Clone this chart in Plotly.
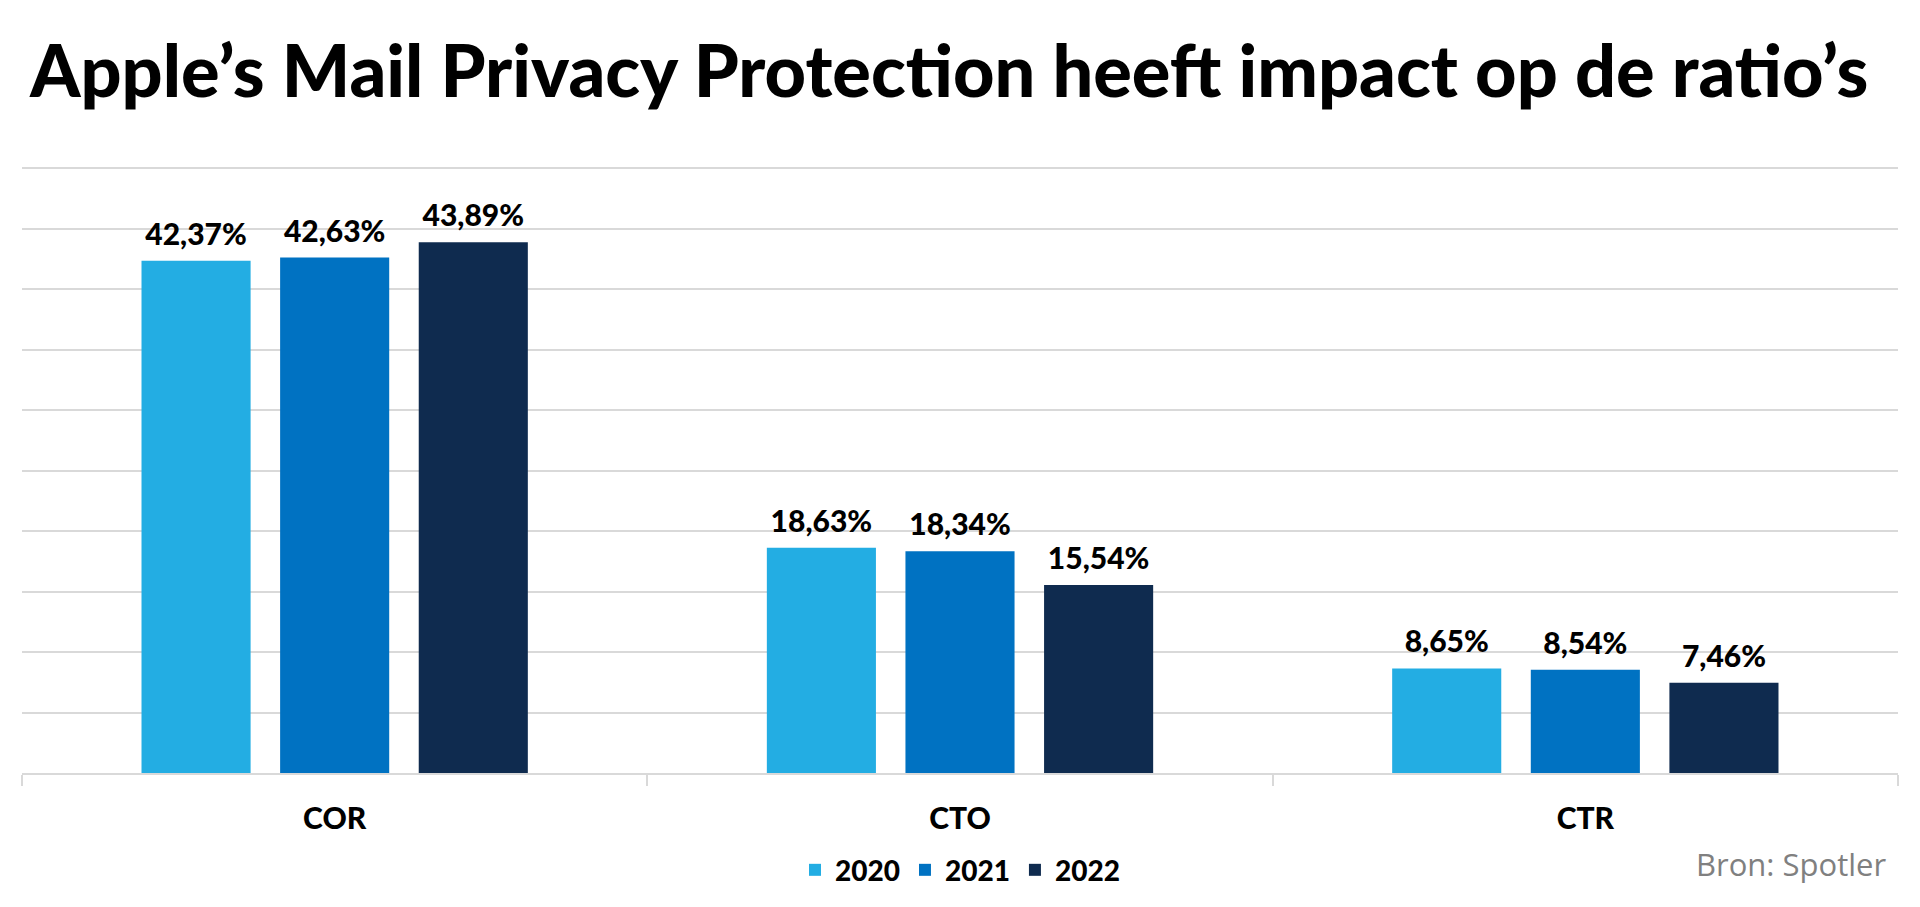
import plotly.graph_objects as go

categories = ["COR", "CTO", "CTR"]
years = ["2020", "2021", "2022"]
values_2020 = [42.37, 18.63, 8.65]
values_2021 = [42.63, 18.34, 8.54]
values_2022 = [43.89, 15.54, 7.46]
colors = ["#23ADE3", "#0072C2", "#0F2B4F"]

title_text = "Apple’s Mail Privacy Protection heeft impact op de ratio’s"
source_text = "Bron: Spotler"

BOLD_FONT = "Lato"
BARGAP = 0.335

def fmt(v):
    return f"{v:.2f}".replace(".", ",") + "%"

fig = go.Figure()
series = list(zip(years, [values_2020, values_2021, values_2022], colors))
for name, vals, col in series:
    fig.add_trace(go.Bar(
        x=categories, y=vals, name=name, offsetgroup=name,
        marker=dict(color=col, line=dict(width=0)),
        hoverinfo="skip",
    ))
# value labels, grouped like the bars
for name, vals, col in series:
    fig.add_trace(go.Scatter(
        x=categories, y=vals, mode="markers+text", offsetgroup=name,
        text=[fmt(v) for v in vals], textposition="top center",
        textfont=dict(family=BOLD_FONT, size=30, color="#000000", weight=900),
        marker=dict(size=12, opacity=0, color=col),
        showlegend=False, hoverinfo="skip", cliponaxis=False,
    ))

fig.update_layout(
    width=1920, height=907,
    paper_bgcolor="white", plot_bgcolor="white",
    margin=dict(l=22, r=22, t=166, b=131),
    barmode="group", bargap=BARGAP, bargroupgap=0.213,
    scattermode="group", scattergap=BARGAP,
    title=dict(
        text=title_text, x=30 / 1920, xanchor="left", xref="container",
        y=1 - 72 / 907, yanchor="middle", yref="container",
        font=dict(family=BOLD_FONT, size=72, color="#000000", weight=900),
    ),
    showlegend=True,
    legend=dict(
        orientation="h", x=0.5, xanchor="center", y=-0.16, yanchor="middle",
        font=dict(family=BOLD_FONT, size=28, color="#000000", weight=900),
        itemclick=False, itemdoubleclick=False,
    ),
    xaxis=dict(
        type="category", showline=True, linecolor="#D9D9D9", linewidth=2,
        ticks="outside", tickson="boundaries", ticklen=11, tickcolor="#D9D9D9", tickwidth=2,
        tickfont=dict(family=BOLD_FONT, size=30, color="#000000", weight=900),
        ticklabelstandoff=18, showgrid=False,
    ),
    yaxis=dict(
        range=[0, 50.2], tick0=0, dtick=5, showticklabels=False, showgrid=True,
        gridcolor="#D9D9D9", gridwidth=2, zeroline=False, showline=False,
    ),
    annotations=[dict(
        text=source_text, xref="paper", yref="paper", x=0.9945, xanchor="right",
        y=-0.15, yanchor="middle", showarrow=False,
        font=dict(family="Open Sans", size=31, color="#808080"),
    )],
)

fig.write_html("out.html", config={"displayModeBar": False},
               post_script="document.body.style.margin='0';")
